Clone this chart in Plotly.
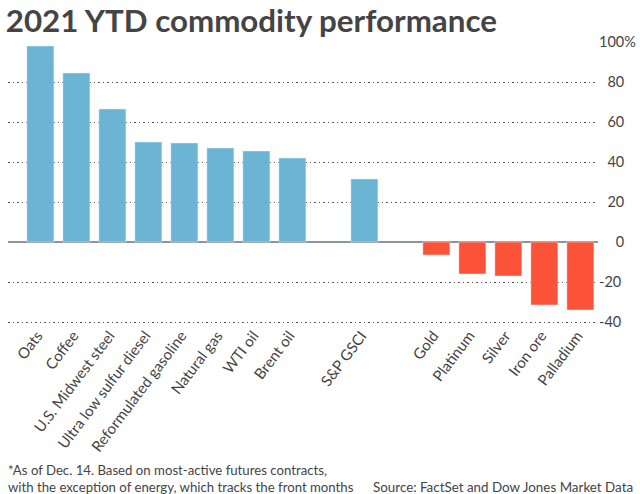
import plotly.graph_objects as go

categories = ["Oats","Coffee","U.S. Midwest steel","Ultra low sulfur diesel","Reformulated gasoline","Natural gas","WTI oil","Brent oil"," ","S&P GSCI","  ","Gold","Platinum","Silver","Iron ore","Palladium"]
values = [98,84.5,66.5,50,49.5,47,45.5,42,None,31.5,None,-6.5,-16,-17,-31.5,-34]
tick_values = [-40,-20,0,20,40,60,80,100]
tick_labels = ["-40","-20","\u2007\u20070","\u200720","\u200740","\u200760","\u200780","100%"]
title_text = "<b>2021 YTD commodity performance</b>"
note_text = "*As of Dec. 14. Based on most-active futures contracts,<br>with the exception of energy, which tracks the front months"
source_text = "Source: FactSet and Dow Jones Market Data"
colors = ["#6cb4d3" if (v or 0) >= 0 else "#fc5238" for v in values]

fig = go.Figure(go.Bar(x=categories, y=values, marker_color=colors, width=0.75))
fig.update_layout(
    width=640, height=494, autosize=False, showlegend=False,
    paper_bgcolor="white", plot_bgcolor="white",
    margin=dict(l=8, r=42, t=0, b=0, pad=0),
    font=dict(family="Lato", color="#444444"),
    title=dict(text=title_text, x=0.009, xanchor="left", y=0.958, yanchor="middle",
               font=dict(size=31.3, family="Lato", color="#444444")),
    annotations=[
        dict(text=note_text, x=-0.003, y=-0.006, xref="paper", yref="paper", showarrow=False, align="left",
             xanchor="left", yanchor="bottom", font=dict(size=13.2)),
        dict(text=source_text, x=1.0625, y=-0.006, xref="paper", yref="paper", showarrow=False,
             xanchor="right", yanchor="bottom", font=dict(size=13.4)),
    ],
)
fig.update_xaxes(type="category", categoryorder="array", categoryarray=categories, tickangle=-53, showgrid=False,
                 showline=False, ticks="", tickfont=dict(size=15, color="#444444"), range=[-0.9,15.49], automargin=False,
                 ticklabelshift=-3)
fig.update_yaxes(range=[-40.5,100.5], tickvals=tick_values, ticktext=tick_labels, side="right", showgrid=True,
                 gridcolor="#555555", griddash="1.5px,3px", gridwidth=1, zeroline=True, zerolinecolor="#8a97a3", zerolinewidth=1.5,
                 tickfont=dict(size=14.5, color="#444444"), ticks="", showline=False, automargin=False,
                 domain=[171/494,453/494])
fig.write_html("out.html", post_script="document.body.style.margin='0';", config={"displayModeBar": False})
